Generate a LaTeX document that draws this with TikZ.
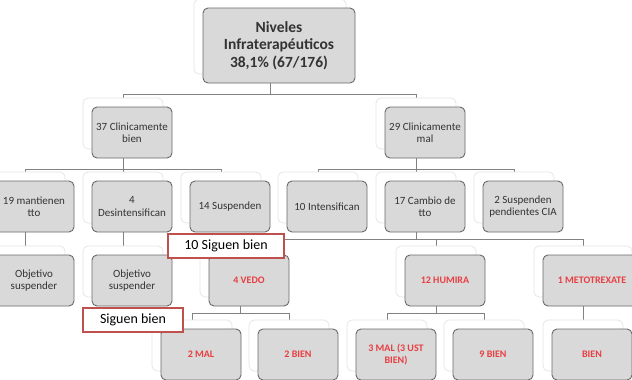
\documentclass[tikz,border=0pt]{standalone}
\usepackage{fontspec}
\setmainfont{Carlito}
\usetikzlibrary{backgrounds}
\definecolor{boxfill}{RGB}{217,217,217}
\definecolor{boxline}{RGB}{105,105,105}
\definecolor{conn}{RGB}{130,130,130}
\definecolor{redtxt}{RGB}{232,62,66}
\definecolor{redline}{RGB}{192,80,77}
\definecolor{ghostline}{RGB}{228,228,228}
\begin{document}
\begin{tikzpicture}[x=1pt,y=-1pt,
  box/.style={draw=boxline, fill=boxfill, line width=0.9pt, rounded corners=5pt,
    minimum width=80pt, minimum height=51pt, align=center, inner sep=1pt,
    font=\fontsize{11}{12.5}\selectfont, text=black!80},
  redtext/.style={text=redtxt, font=\bfseries\fontsize{10}{12}\selectfont},
  ghost/.style={draw=ghostline, fill=white, line width=0.7pt, rounded corners=5pt,
    minimum width=80pt, minimum height=51pt, inner sep=0pt},
  redbox/.style={draw=redline, fill=white, line width=1.3pt, minimum height=24pt,
    inner sep=1pt, font=\fontsize{14}{16}\selectfont, text=black},
  link/.style={draw=conn, line width=1pt}]
\useasboundingbox (0,0) rectangle (632,380);

% root
\node[ghost, minimum width=152pt, minimum height=75pt] (g-r) at (270,36.5) {};
\node[box, minimum width=152pt, minimum height=75pt, font=\bfseries\fontsize{15.5}{17.5}\selectfont] (r) at (279,45.5) {Niveles\\Infraterapéuticos\\38,1\% (67/176)};

% level 1
\node[ghost] (g-a) at (123,123.5) {};
\node[box] (a) at (132,132.5) {37 Clinicamente\\bien};
\node[ghost] (g-b) at (416,123.5) {};
\node[box] (b) at (425,132.5) {29 Clinicamente\\mal};

% level 2
\node[ghost] (g-a1) at (25,197.5) {};
\node[box] (a1) at (34,206.5) {19 mantienen\\tto};
\node[ghost] (g-a2) at (123,197.5) {};
\node[box] (a2) at (132,206.5) {4\\Desintensifican};
\node[ghost] (g-a3) at (221,197.5) {};
\node[box] (a3) at (230,206.5) {14 Suspenden};
\node[ghost] (g-b1) at (318,197.5) {};
\node[box] (b1) at (327,206.5) {10 Intensifican};
\node[ghost] (g-b2) at (416,197.5) {};
\node[box] (b2) at (425,206.5) {17 Cambio de\\tto};
\node[ghost] (g-b3) at (514,197.5) {};
\node[box] (b3) at (523,206.5) {2 Suspenden\\pendientes CIA};

% level 3
\node[ghost] (g-o1) at (25,271.5) {};
\node[box] (o1) at (34,280.5) {Objetivo\\suspender};
\node[ghost] (g-o2) at (123,271.5) {};
\node[box] (o2) at (132,280.5) {Objetivo\\suspender};
\node[ghost] (g-v) at (240,271.5) {};
\node[box, redtext] (v) at (249,280.5) {4 VEDO};
\node[ghost] (g-h) at (436,271.5) {};
\node[box, redtext] (h) at (445,280.5) {12 HUMIRA};
\node[ghost, minimum width=98pt] (g-m) at (583,271.5) {};
\node[box, redtext, minimum width=98pt] (m) at (592,280.5) {1 METOTREXATE};

% level 4
\node[ghost] (g-v1) at (192,345.5) {};
\node[box, redtext] (v1) at (201,354.5) {2 MAL};
\node[ghost] (g-v2) at (289,345.5) {};
\node[box, redtext] (v2) at (298,354.5) {2 BIEN};
\node[ghost] (g-h1) at (387,345.5) {};
\node[box, redtext] (h1) at (396,354.5) {3 MAL (3 UST\\BIEN)};
\node[ghost] (g-h2) at (484,345.5) {};
\node[box, redtext] (h2) at (493,354.5) {9 BIEN};
\node[ghost] (g-m1) at (583,345.5) {};
\node[box, redtext] (m1) at (592,354.5) {BIEN};

% red labels
\node[redbox, minimum width=116pt] (sb1) at (226,246) {10 Siguen bien};
\node[redbox, minimum width=100pt] (sb2) at (133,320) {Siguen bien};

% bus coordinates
\coordinate (bus0) at (0,94);
\coordinate (bus1) at (0,169);
\coordinate (bus2) at (0,239);
\coordinate (bus3) at (0,313);

\begin{pgfonlayer}{background}
  \draw[link] (g-r.center) -- (g-r.center |- bus0);
  \draw[link] (g-a.center) |- (g-b.center |- bus0) -- (g-b.center);
  \draw[link] (g-a.center) -- (g-a.center |- bus1);
  \draw[link] (g-a1.center) |- (g-a3.center |- bus1) -- (g-a3.center);
  \draw[link] (g-a2.center) -- (g-a2.center |- bus1);
  \draw[link] (g-b.center) -- (g-b.center |- bus1);
  \draw[link] (g-b1.center) |- (g-b3.center |- bus1) -- (g-b3.center);
  \draw[link] (g-b2.center) -- (g-b2.center |- bus1);
  \draw[link] (g-a1.center) -- (g-o1.center);
  \draw[link] (g-a2.center) -- (g-o2.center);
  \draw[link] (g-b2.center) -- (g-b2.center |- bus2);
  \draw[link] (g-v.center) |- (g-m.center |- bus2) -- (g-m.center);
  \draw[link] (g-h.center) -- (g-h.center |- bus2);
  \draw[link] (g-v.center) -- (g-v.center |- bus3);
  \draw[link] (g-v1.center) |- (g-v2.center |- bus3) -- (g-v2.center);
  \draw[link] (g-h.center) -- (g-h.center |- bus3);
  \draw[link] (g-h1.center) |- (g-h2.center |- bus3) -- (g-h2.center);
  \draw[link] (g-m.center) -- (g-m1.center);
\end{pgfonlayer}
\end{tikzpicture}
\end{document}
